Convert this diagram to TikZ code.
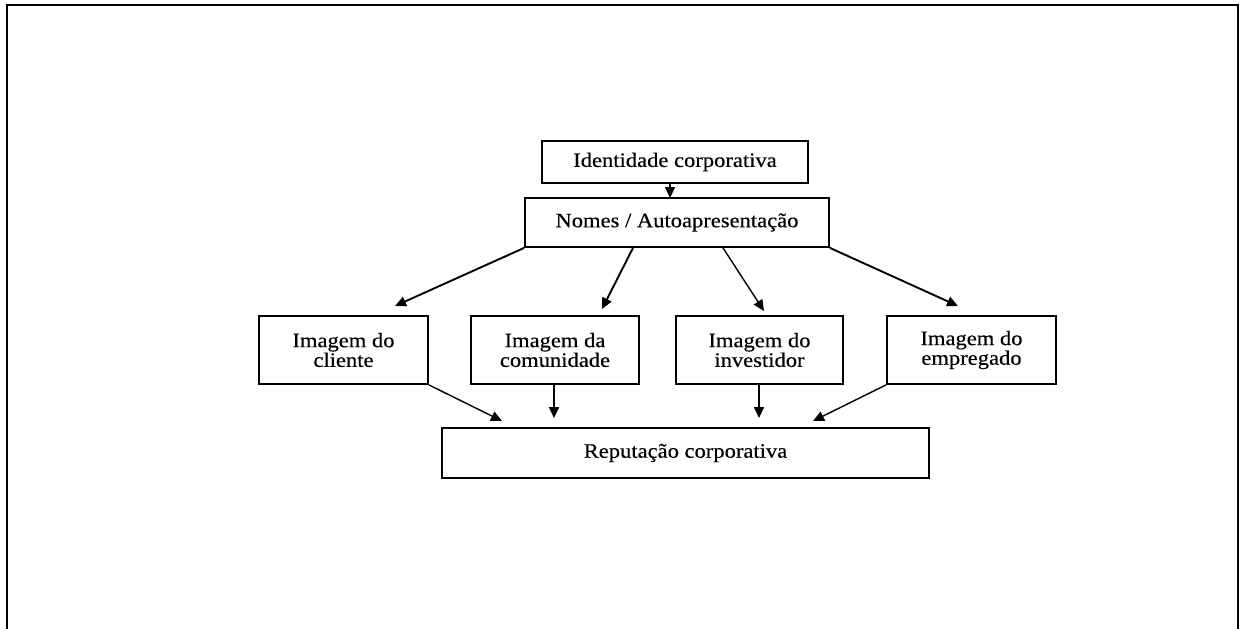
\documentclass[tikz,border=0pt]{standalone}
\usepackage{fontspec}
\setmainfont{Liberation Serif}[FakeStretch=1.1, FakeBold=0.3]
\usetikzlibrary{arrows.meta}

\newcommand{\boxfont}{\fontsize{20.5pt}{17pt}\selectfont}

\tikzset{
  box/.style={draw, line width=1.8pt, inner sep=0pt, align=center, font=\boxfont},
  arr/.style={line width=1.6pt, -{Triangle[length=11pt,width=10pt]}},
  frame/.style={line width=2.2pt}
}

\begin{document}
\begin{tikzpicture}[x=1pt, y=-1pt]
  \useasboundingbox (0,0) rectangle (1240,629);

  % open page frame (no bottom edge)
  \draw[frame] (7,629) -- (7,5) -- (1238,5) -- (1238,629);

  % boxes
  \node[box, minimum width=266pt, minimum height=42pt] (ident) at (675,162) {Identidade corporativa};
  \node[box, minimum width=304pt, minimum height=49pt] (nomes) at (677,222.5) {Nomes / Autoapresentação};

  \node[box, minimum width=169pt, minimum height=68pt] (cliente) at (343.5,350) {Imagem do\\cliente};
  \node[box, minimum width=168pt, minimum height=68pt] (comun) at (555,350) {Imagem da\\comunidade};
  \node[box, minimum width=167pt, minimum height=68pt] (invest) at (759.5,350) {Imagem do\\investidor};
  \node[box, minimum width=169pt, minimum height=68pt] (empreg) at (971.5,350) {Imagem do\\empregado};

  \node[box, minimum width=487pt, minimum height=50pt] (rep) at (685.5,453) {Reputação corporativa};

  % arrow tips stopping short of the target boxes
  \coordinate (tNomes) at (670,198);
  \coordinate (tCli) at (395,306);
  \coordinate (tCom) at (602,309);
  \coordinate (tInv) at (764,311);
  \coordinate (tEmp) at (958,306);
  \coordinate (rCli) at (502,421);
  \coordinate (rCom) at (554,418);
  \coordinate (rInv) at (759,418);
  \coordinate (rEmp) at (813,421);

  % connectors
  \draw[arr] (ident.south -| tNomes) -- (tNomes);

  \draw[arr, line width=1.9pt] (nomes.south west) -- (tCli);
  \draw[arr, line width=1.9pt] ([xshift=-44pt]nomes.south) -- (tCom);
  \draw[arr, line width=1.4pt] ([xshift=46pt]nomes.south) -- (tInv);
  \draw[arr, line width=1.9pt] (nomes.south east) -- (tEmp);

  \draw[arr, line width=1.4pt] (cliente.south east) -- (rCli);
  \draw[arr] (comun.south -| rCom) -- (rCom);
  \draw[arr] (invest.south -| rInv) -- (rInv);
  \draw[arr, line width=1.4pt] (empreg.south west) -- (rEmp);
\end{tikzpicture}
\end{document}
